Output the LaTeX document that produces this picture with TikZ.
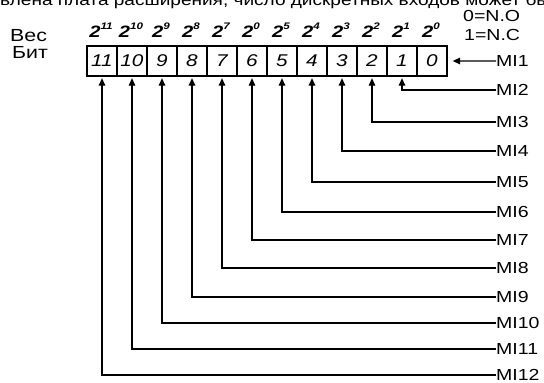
\documentclass[tikz,border=0pt]{standalone}
\usepackage{fontspec}
\setmainfont[FakeStretch=1.22]{Liberation Sans}
\usetikzlibrary{arrows.meta}
\begin{document}
\begin{tikzpicture}[x=1pt,y=-1pt,
  wire/.style={line width=1.3pt, black},
  arr/.style={wire, -{Triangle[length=7.5pt,width=6.5pt]}, shorten >=1.5pt},
  cell/.style={draw, line width=1.3pt, minimum width=30pt, minimum height=30pt, inner sep=0pt, font=\fontsize{17}{17}\selectfont\itshape},
  lbl/.style={anchor=base west, inner sep=0pt, font=\fontsize{16}{16}\selectfont},
  head/.style={anchor=base west, inner sep=0pt, font=\fontsize{17.5}{17.5}\selectfont},
  pw/.style={anchor=base, inner sep=0pt, font=\fontsize{16.5}{16.5}\selectfont\bfseries\itshape},
]
\useasboundingbox (0,0) rectangle (544,383);
\begin{scope}
  \clip (0,0) rectangle (544,383);
  \node[anchor=base west, inner sep=0pt, font=\fontsize{15.6}{15.6}\selectfont] (toptext) at (0,5.5) {влена плата расширения, число дискретных входов может бы};
\end{scope}
% headers
\node[head] (ves) at (10,41) {Вес};
\node[head] (bit) at (12,58) {Бит};
\node[lbl] (no) at (463,21) {0=N.O};
\node[lbl] (nc) at (464,40) {1=N.C};
% cells
\foreach \k in {0,...,11}
  \node[cell] (c\k) at ({432-30*\k},61) {\k};
% weights
\foreach \k/\e in {0/0,1/1,2/2,3/3,4/4,5/5,6/0,7/7,8/8,9/9,10/10,11/11}
  \node[pw] (p\k) at ({431-30*\k},37.5) {2\raisebox{8.5pt}{\fontsize{9.5}{9.5}\selectfont\e}};
% MI1
\node[lbl] (m1) at (496,66.5) {MI1};
\draw[arr, shorten >=5pt] (m1.west) -- (c0.east);
% MI2..MI12
\foreach \k/\y in {1/90,2/122,3/151,4/182,5/212,6/240,7/268,8/297,9/323,10/349,11/375}{
  \pgfmathtruncatemacro{\n}{\k+1}
  \node[lbl] (m\n) at (496,\y+5.5) {MI\n};
  \draw[arr] (m\n.west) -| (c\k.south);
}
\end{tikzpicture}
\end{document}
